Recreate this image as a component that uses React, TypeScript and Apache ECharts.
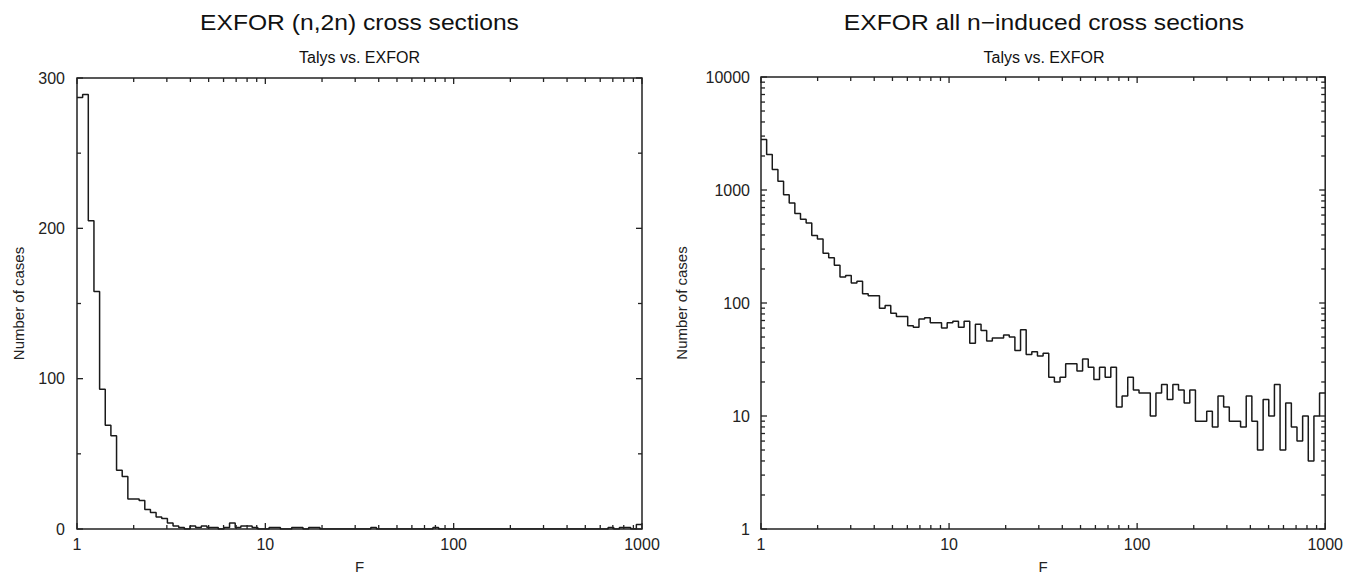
import React, { useEffect, useRef } from "react";
import * as echarts from "echarts";

// ---- data ----
const binsPerDecade = 100 / 3;
const binCount = 100;
const fMin = 1;
const fMax = 1000;

// (n,2n) histogram counts, 100 log bins from F=1 to F=1000
const n2nCounts = [
  287, 289, 205, 158, 93, 69, 62, 39, 35, 20,
  20, 19, 13, 11, 8, 7, 4, 2, 1, 0,
  2, 1, 2, 1, 1, 0, 1, 4, 1, 2,
  2, 1, 0, 0, 1, 1, 0, 0, 1, 1,
  0, 1, 1, 0, 0, 0, 0, 0, 0, 0,
  0, 0, 1, 0, 0, 0, 0, 0, 0, 0,
  0, 0, 0, 1, 0, 0, 0, 0, 0, 0,
  0, 0, 0, 0, 0, 0, 0, 0, 0, 0,
  0, 0, 0, 0, 0, 0, 0, 0, 0, 0,
  0, 0, 0, 0, 1, 0, 1, 1, 0, 3,
];

// all n-induced histogram counts, 100 log bins from F=1 to F=1000
const allCounts = [
  2800, 2065, 1518, 1194, 910, 769, 618, 552, 510, 396,
  368, 276, 252, 216, 170, 175, 150, 156, 121, 116,
  116, 90, 95, 81, 76, 76, 63, 61, 72, 74,
  67, 67, 60, 67, 69, 61, 69, 44, 65, 57,
  46, 49, 49, 52, 50, 38, 58, 35, 37, 34,
  36, 22, 20, 22, 29, 29, 25, 32, 27, 21,
  27, 22, 27, 12, 15, 22, 17, 16, 16, 10,
  16, 19, 14, 19, 17, 13, 17, 9, 9, 11,
  8, 15, 12, 9, 9, 8, 15, 9, 5, 14,
  10, 19, 5, 13, 8, 6, 10, 4, 10, 16,
];

const titles = ["EXFOR (n,2n) cross sections", "EXFOR all n\u2212induced cross sections"];
const subtitle = "Talys vs. EXFOR";
const xName = "F";
const yName = "Number of cases";

const xMajorTicks = [1, 10, 100, 1000];
const xMinorTicks = [2, 3, 4, 5, 6, 7, 8, 9, 20, 30, 40, 50, 60, 70, 80, 90, 200, 300, 400, 500, 600, 700, 800, 900];
const linYMajorTicks = [0, 100, 200, 300];
const linYMinorTicks = [50, 150, 250];
const logYMajorTicks = [1, 10, 100, 1000, 10000];
const logYMinorTicks = [
  2, 3, 4, 5, 6, 7, 8, 9,
  20, 30, 40, 50, 60, 70, 80, 90,
  200, 300, 400, 500, 600, 700, 800, 900,
  2000, 3000, 4000, 5000, 6000, 7000, 8000, 9000,
];

const FONT = "'Liberation Sans', Arial, Helvetica, sans-serif";
const INK = "#222";

function binEdge(i: number) {
  return fMin * Math.pow(10, i / binsPerDecade);
}

function stepPoints(counts: number[]) {
  const pts: number[][] = [];
  for (let i = 0; i < binCount; i++) {
    pts.push([binEdge(i), counts[i]]);
    pts.push([binEdge(i + 1), counts[i]]);
  }
  return pts;
}

function powerLabel(v: number) {
  const l = Math.log10(v);
  return Math.abs(l - Math.round(l)) < 1e-6 ? String(Math.round(v)) : "";
}

function tickSeries(idx: number, yMajor: number[], yMinor: number[], yMin: number, yMax: number) {
  const data: number[][] = [];
  xMajorTicks.forEach((v) => data.push([v, yMin, 1, 0]));
  xMinorTicks.forEach((v) => data.push([v, yMin, 0, 0]));
  yMajor.forEach((v) => data.push([fMin, v, 1, 1]));
  yMinor.forEach((v) => data.push([fMin, v, 0, 1]));
  return {
    type: "custom",
    xAxisIndex: idx,
    yAxisIndex: idx,
    clip: false,
    silent: true,
    z: 5,
    data,
    renderItem: (_p: any, api: any) => {
      const isY = api.value(3) === 1;
      const L = api.value(2) === 1 ? 6 : 4;
      const style = { stroke: INK, lineWidth: 1.3 };
      if (!isY) {
        const v = api.value(0);
        const b = api.coord([v, yMin]);
        const t = api.coord([v, yMax]);
        return {
          type: "group",
          children: [
            { type: "line", shape: { x1: b[0], y1: b[1], x2: b[0], y2: b[1] - L }, style },
            { type: "line", shape: { x1: t[0], y1: t[1], x2: t[0], y2: t[1] + L }, style },
          ],
        };
      }
      const v = api.value(1);
      const l = api.coord([fMin, v]);
      const r = api.coord([fMax, v]);
      return {
        type: "group",
        children: [
          { type: "line", shape: { x1: l[0], y1: l[1], x2: l[0] + L, y2: l[1] }, style },
          { type: "line", shape: { x1: r[0], y1: r[1], x2: r[0] - L, y2: r[1] }, style },
        ],
      };
    },
  };
}

export default function App() {
  const ref = useRef<HTMLDivElement>(null);
  useEffect(() => {
    if (!ref.current) return;
    const chart = echarts.init(ref.current, undefined, { renderer: "svg" });
    const axisLabel = { color: INK, fontSize: 16, fontFamily: FONT };
    const nameStyle = { color: INK, fontSize: 15, fontFamily: FONT };
    const xAxisCommon = {
      type: "log",
      logBase: 10,
      min: fMin,
      max: fMax,
      axisLine: { show: false },
      axisTick: { show: false },
      splitLine: { show: false },
      axisLabel: { ...axisLabel, margin: 7, formatter: powerLabel },
      name: xName,
      nameLocation: "middle",
      nameGap: 30,
      nameTextStyle: nameStyle,
    };
    const centers = [359.5, 1044];
    chart.setOption({
      animation: false,
      backgroundColor: "#fff",
      grid: [
        { left: 77, top: 78, width: 565, height: 459, show: true, borderColor: INK, borderWidth: 1.5, backgroundColor: "transparent" },
        { left: 761, top: 77, width: 566, height: 460, show: true, borderColor: INK, borderWidth: 1.5, backgroundColor: "transparent" },
      ],
      xAxis: [
        { ...xAxisCommon, gridIndex: 0 },
        { ...xAxisCommon, gridIndex: 1 },
      ],
      yAxis: [
        {
          type: "value",
          gridIndex: 0,
          min: 0,
          max: 300,
          interval: 100,
          axisLine: { show: false },
          axisTick: { show: false },
          splitLine: { show: false },
          axisLabel: { ...axisLabel, margin: 12, formatter: (v: number) => String(v) },
          name: yName,
          nameLocation: "middle",
          nameRotate: 90,
          nameGap: 51,
          nameTextStyle: nameStyle,
        },
        {
          type: "log",
          logBase: 10,
          gridIndex: 1,
          min: 1,
          max: 10000,
          axisLine: { show: false },
          axisTick: { show: false },
          splitLine: { show: false },
          axisLabel: { ...axisLabel, margin: 11, formatter: powerLabel },
          name: yName,
          nameLocation: "middle",
          nameRotate: 90,
          nameGap: 72,
          nameTextStyle: nameStyle,
        },
      ],
      graphic: [
        ...titles.map((t, i) => ({
          type: "text",
          x: centers[i],
          y: 22,
          scaleX: 1.12,
          style: { text: t, fill: "#111", font: `22px ${FONT}`, textAlign: "center", textVerticalAlign: "middle" },
        })),
        ...titles.map((_t, i) => ({
          type: "text",
          x: centers[i],
          y: 57,
          style: { text: subtitle, fill: "#111", font: `16px ${FONT}`, textAlign: "center", textVerticalAlign: "middle" },
        })),
      ],
      series: [
        {
          type: "line",
          xAxisIndex: 0,
          yAxisIndex: 0,
          data: stepPoints(n2nCounts),
          showSymbol: false,
          symbol: "none",
          lineStyle: { color: "#1a1a1a", width: 1.5 },
          silent: true,
          z: 4,
        },
        {
          type: "line",
          xAxisIndex: 1,
          yAxisIndex: 1,
          data: stepPoints(allCounts),
          showSymbol: false,
          symbol: "none",
          lineStyle: { color: "#1a1a1a", width: 1.5 },
          silent: true,
          z: 4,
        },
        tickSeries(0, linYMajorTicks, linYMinorTicks, 0, 300),
        tickSeries(1, logYMajorTicks, logYMinorTicks, 1, 10000),
      ],
    });
    return () => chart.dispose();
  }, []);
  return (
    <div
      ref={ref}
      style={{ position: "absolute", left: 0, top: 0, width: 1346, height: 579, background: "#fff" }}
    />
  );
}
